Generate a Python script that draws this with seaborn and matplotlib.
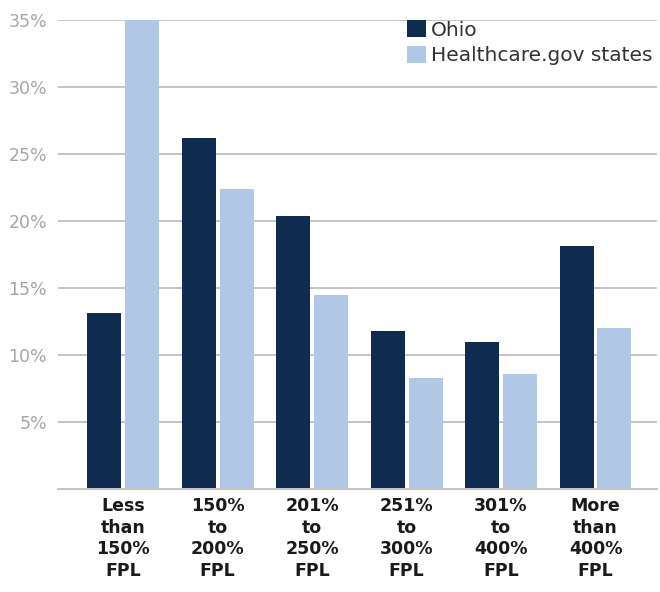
import matplotlib
matplotlib.use("Agg")
import matplotlib.pyplot as plt
import seaborn as sns
import pandas as pd

# Share of enrollees by income band (% of federal poverty level)
categories = [
    "Less\nthan\n150%\nFPL",
    "150%\nto\n200%\nFPL",
    "201%\nto\n250%\nFPL",
    "251%\nto\n300%\nFPL",
    "301%\nto\n400%\nFPL",
    "More\nthan\n400%\nFPL",
]
ohio = [13.1, 26.2, 20.4, 11.8, 11.0, 18.1]
healthcare_gov = [35.0, 22.4, 14.5, 8.3, 8.6, 12.0]
series = ["Ohio", "Healthcare.gov states"]
ytick_values = [5, 10, 15, 20, 25, 30, 35]
ytick_labels = ["5%", "10%", "15%", "20%", "25%", "30%", "35%"]

df = pd.DataFrame({
    "band": categories * 2,
    "share": ohio + healthcare_gov,
    "group": [series[0]] * len(categories) + [series[1]] * len(categories),
})

sns.set_theme(style="white")
plt.rcParams["font.family"] = ["DejaVu Sans"]

fig = plt.figure(figsize=(6.6, 5.92), dpi=100)
ax = fig.add_axes([58 / 660, 1 - 489 / 592, (657 - 58) / 660, (489 - 20) / 592])

sns.barplot(
    data=df, x="band", y="share", hue="group", order=categories,
    hue_order=series, palette=["#0f2b50", "#b1c7e6"],
    width=0.8, gap=0.1, saturation=1, linewidth=0, ax=ax, legend=True,
)

ax.set_ylim(0, 35)
ax.set_xlim(-0.69, 5.65)
ax.set_yticks(ytick_values)
ax.set_yticklabels(ytick_labels, color="#a6a6a6", fontsize=12.5)
ax.tick_params(axis="y", length=0, pad=8)
ax.tick_params(axis="x", length=0, pad=6)
for lbl in ax.get_xticklabels():
    lbl.set_fontweight("bold")
    lbl.set_fontsize(12.5)
    lbl.set_color("#1a1a1a")
    lbl.set_linespacing(1.25)
    lbl.set_multialignment("center")

ax.yaxis.grid(True, color="#c4c4c4", linewidth=1.4)
ax.set_axisbelow(True)
for side in ["left", "right", "top"]:
    ax.spines[side].set_visible(False)
ax.spines["bottom"].set_color("#c4c4c4")
ax.spines["bottom"].set_linewidth(1.4)
ax.set_xlabel("")
ax.set_ylabel("")

ax.legend(
    loc="upper left", bbox_to_anchor=(407 / 660, 1 - 20 / 592),
    bbox_transform=fig.transFigure, frameon=False, fontsize=14.5,
    handlelength=0.95, handleheight=0.95, handletextpad=0.25,
    labelspacing=0.3, borderpad=0, borderaxespad=0,
    labelcolor="#333333",
)

fig.savefig("out.png", dpi=100)
